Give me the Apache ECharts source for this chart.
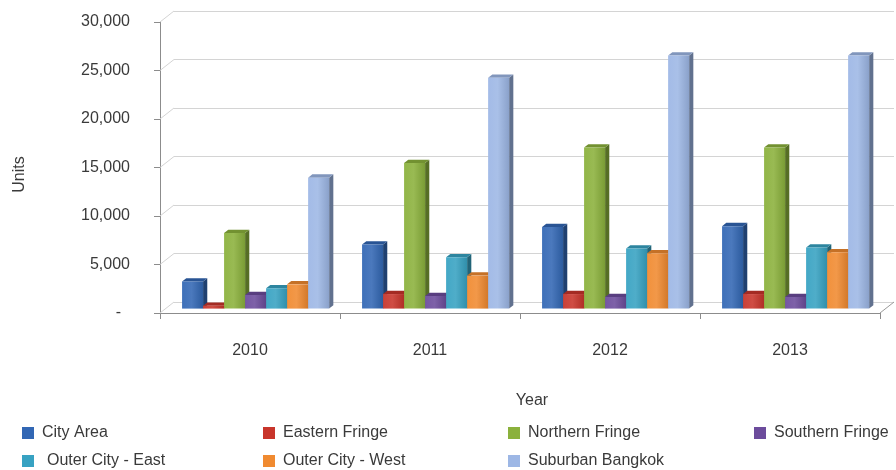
<!DOCTYPE html>
<html>
<head>
<meta charset="utf-8">
<title>Housing units by area</title>
<script src="https://cdn.jsdelivr.net/npm/echarts@6/dist/echarts.min.js"></script>
<style>
  html, body { margin: 0; padding: 0; background: #ffffff; }
  #chart { width: 896px; height: 470px; }
</style>
</head>
<body>
<div id="chart"></div>
<script>
// Years on the category axis
const years = ['2010', '2011', '2012', '2013'];

// Units per area and year
const cityArea        = [2800, 6600, 8400, 8500];
const easternFringe   = [300, 1500, 1500, 1500];
const northernFringe  = [7800, 15000, 16600, 16600];
const southernFringe  = [1400, 1300, 1200, 1200];
const outerCityEast   = [2100, 5300, 6200, 6300];
const outerCityWest   = [2500, 3400, 5700, 5800];
const suburbanBangkok = [13500, 23800, 26100, 26100];

const seriesNames = ['City Area', 'Eastern Fringe', 'Northern Fringe', 'Southern Fringe',
                     'Outer City - East', 'Outer City - West', 'Suburban Bangkok'];
const seriesValues = [cityArea, easternFringe, northernFringe, southernFringe,
                      outerCityEast, outerCityWest, suburbanBangkok];
const seriesColors = ['#3267b4', '#c8352b', '#8bb13c', '#6c4c9c', '#37a2c2', '#f08a30', '#9db7e5'];

// Value axis range
const Y_MAX = 30000;
const Y_STEP = 5000;

// Pseudo-3D geometry: full depth of the plot box and where the bars sit inside it
const DEPTH_DX = 14, DEPTH_DY = 11;
const FRONT_T = 0.4, BACK_T = 0.7;
const GROUP_FRACTION = 0.817;

const FONT = '"Liberation Sans", Arial, sans-serif';
const TEXT_COLOR = '#3a3a3a';

function shade(hex, amt) {
  const n = parseInt(hex.slice(1), 16);
  let r = (n >> 16) & 255, g = (n >> 8) & 255, b = n & 255;
  const f = v => amt >= 0 ? Math.round(v + (255 - v) * amt) : Math.round(v * (1 + amt));
  r = f(r); g = f(g); b = f(b);
  return 'rgb(' + r + ',' + g + ',' + b + ')';
}

function barRenderer(k, color) {
  const n = seriesNames.length;
  return function (params, api) {
    const cat = api.value(0), val = api.value(1);
    const base = api.coord([cat, 0]);
    const top = api.coord([cat, val]);
    const catW = api.size([1, 0])[0];
    const groupW = catW * GROUP_FRACTION;
    const slot = groupW / n;
    const x0 = base[0] - groupW / 2 + k * slot + FRONT_T * DEPTH_DX;
    const x1 = x0 + slot;
    const yb = base[1] - FRONT_T * DEPTH_DY;
    const yt = top[1] - FRONT_T * DEPTH_DY;
    const sx = (BACK_T - FRONT_T) * DEPTH_DX;
    const sy = (BACK_T - FRONT_T) * DEPTH_DY;
    return {
      type: 'group',
      children: [
        {
          type: 'polygon',
          shape: { points: [[x1, yb], [x1 + sx, yb - sy], [x1 + sx, yt - sy], [x1, yt]] },
          style: { fill: shade(color, -0.38) }
        },
        {
          type: 'polygon',
          shape: { points: [[x0, yt], [x1, yt], [x1 + sx, yt - sy], [x0 + sx, yt - sy]] },
          style: { fill: shade(color, -0.18) }
        },
        {
          type: 'rect',
          shape: { x: x0, y: yt, width: slot, height: yb - yt },
          style: {
            fill: {
              type: 'linear', x: 0, y: 0, x2: 1, y2: 0,
              colorStops: [
                { offset: 0, color: shade(color, 0.06) },
                { offset: 0.45, color: shade(color, 0.12) },
                { offset: 1, color: shade(color, -0.12) }
              ]
            }
          }
        }
      ]
    };
  };
}

// Gridlines on the left side wall and the right edge of the floor
const wallTicks = [];
for (let v = 0; v <= Y_MAX; v += Y_STEP) wallTicks.push([0, v]);

function wallRenderer(params, api) {
  const cs = params.coordSys;
  const y = api.coord([0, api.value(1)])[1];
  const children = [{
    type: 'line',
    shape: { x1: cs.x, y1: y, x2: cs.x + DEPTH_DX, y2: y - DEPTH_DY },
    style: { stroke: '#d4d4d4', lineWidth: 1 }
  }];
  if (api.value(1) === 0) {
    children.push({
      type: 'line',
      shape: { x1: cs.x + cs.width, y1: y, x2: cs.x + cs.width + DEPTH_DX, y2: y - DEPTH_DY },
      style: { stroke: '#9a9a9a', lineWidth: 1 }
    });
  }
  return { type: 'group', children: children };
}

const series = [{
  type: 'custom',
  xAxisIndex: 0, yAxisIndex: 0,
  renderItem: wallRenderer,
  data: wallTicks,
  silent: true,
  z: 1
}];
seriesNames.forEach((name, k) => {
  series.push({
    type: 'custom',
    name: name,
    xAxisIndex: 0, yAxisIndex: 0,
    itemStyle: { color: seriesColors[k] },
    renderItem: barRenderer(k, seriesColors[k]),
    data: seriesValues[k].map((v, i) => [i, v]),
    z: 3
  });
});

// Legend: four columns, two rows
const legendCols = [22, 263, 508, 754];
const legendRows = [425, 453];
const legends = seriesNames.map((name, k) => ({
  data: [name],
  left: legendCols[k % 4],
  top: legendRows[Math.floor(k / 4)],
  icon: 'rect',
  itemWidth: 12,
  itemHeight: 12,
  padding: 0,
  selectedMode: false,
  textStyle: {
    fontFamily: FONT, fontSize: 16, color: TEXT_COLOR,
    padding: [0, 0, 0, k === 4 ? 8 : 3]
  }
}));

const chart = echarts.init(document.getElementById('chart'), null, { renderer: 'canvas' });
chart.setOption({
  backgroundColor: '#ffffff',
  animation: false,
  textStyle: { fontFamily: FONT },
  grid: [
    { left: 160, top: 22, width: 720, height: 291 },
    { left: 160 + DEPTH_DX, top: 22 - DEPTH_DY, width: 720, height: 291 }
  ],
  xAxis: [
    {
      gridIndex: 0,
      type: 'category',
      data: years,
      name: 'Year',
      nameLocation: 'middle',
      nameGap: 80,
      nameTextStyle: { fontFamily: FONT, fontSize: 16, color: TEXT_COLOR, padding: [0, 0, 0, 24] },
      axisLine: { lineStyle: { color: '#8c8c8c', width: 1 } },
      axisTick: { show: true, length: 6, lineStyle: { color: '#8c8c8c' } },
      axisLabel: { fontFamily: FONT, fontSize: 16, color: TEXT_COLOR, margin: 30 },
      splitLine: { show: false }
    },
    {
      gridIndex: 1,
      type: 'category',
      data: years,
      show: false
    }
  ],
  yAxis: [
    {
      gridIndex: 0,
      type: 'value',
      min: 0, max: Y_MAX, interval: Y_STEP,
      name: 'Units',
      nameLocation: 'middle',
      nameGap: 132,
      nameRotate: 90,
      nameTextStyle: { fontFamily: FONT, fontSize: 16, color: TEXT_COLOR, padding: [0, 14, 0, 0] },
      axisLine: { show: true, lineStyle: { color: '#8c8c8c', width: 1 } },
      axisTick: { show: true, length: 6, lineStyle: { color: '#8c8c8c' } },
      axisLabel: {
        fontFamily: FONT, fontSize: 16, color: TEXT_COLOR, margin: 30,
        formatter: v => v === 0 ? '-  ' : v.toLocaleString('en-US')
      },
      splitLine: { show: false }
    },
    {
      gridIndex: 1,
      type: 'value',
      min: 0, max: Y_MAX, interval: Y_STEP,
      axisLine: { show: false },
      axisTick: { show: false },
      axisLabel: { show: false },
      splitLine: { show: true, lineStyle: { color: '#d4d4d4', width: 1 } }
    }
  ],
  legend: legends,
  series: series
});
</script>
</body>
</html>
